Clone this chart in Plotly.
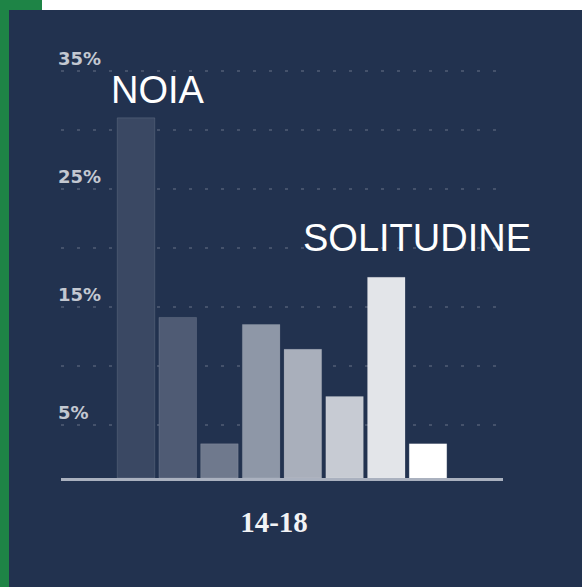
import plotly.graph_objects as go

# ---- data ----
group_label = ["14-18"]
bar_values = [30.5, 13.6, 2.9, 13.0, 10.9, 6.9, 17.0, 2.9]
bar_colors = ["#3a4863", "#4f5b74", "#6f798d", "#8e97a7", "#a9afbb", "#c7cbd3", "#e3e5e9", "#ffffff"]
ytick_vals = [5, 15, 25, 35]
ytick_text = ["5%", "15%", "25%", "35%"]
grid_levels = [4.5, 9.5, 14.5, 19.5, 24.5, 29.5, 34.5]

NAVY = "#22324f"
GREEN = "#1e8446"

W, H = 582, 587
L, R, T, B = 61, 79, 47, 109
pw, ph = W - L - R, H - T - B


def px_x(p):
    return (p - L) / pw


def px_y(p):
    return (H - B - p) / ph


fig = go.Figure()
for i, (v, c) in enumerate(zip(bar_values, bar_colors)):
    fig.add_trace(go.Bar(
        x=group_label, y=[v], marker=dict(color=c, line=dict(color="rgba(255,255,255,0.12)", width=1)),
        showlegend=False, hoverinfo="y",
    ))

# background decorations (green strip, white top band)
fig.add_shape(type="rect", xref="paper", yref="paper", x0=px_x(0), x1=px_x(9), y0=px_y(H), y1=px_y(0),
              fillcolor=GREEN, line_width=0, layer="below")
fig.add_shape(type="rect", xref="paper", yref="paper", x0=px_x(0), x1=px_x(42), y0=px_y(10), y1=px_y(0),
              fillcolor=GREEN, line_width=0, layer="below")
fig.add_shape(type="rect", xref="paper", yref="paper", x0=px_x(42), x1=px_x(W), y0=px_y(10), y1=px_y(0),
              fillcolor="white", line_width=0, layer="below")

# callout labels
fig.add_annotation(text="NOIA", xref="paper", yref="y", x=px_x(158), y=bar_values[0], yshift=5,
                   xanchor="center", yanchor="bottom", showarrow=False,
                   font=dict(family="Liberation Sans, Arial, sans-serif", size=38, color="white"))
fig.add_annotation(text="SOLITUDINE", xref="paper", yref="y", x=px_x(417), y=bar_values[6], yshift=16,
                   xanchor="center", yanchor="bottom", showarrow=False,
                   font=dict(family="Liberation Sans, Arial, sans-serif", size=38, color="white"))

fig.update_layout(
    width=W, height=H,
    margin=dict(l=L, r=R, t=T, b=B),
    paper_bgcolor=NAVY, plot_bgcolor=NAVY,
    barmode="group", bargap=0.245, bargroupgap=0.1,
    xaxis=dict(
        range=[-0.5, 0.5],
        showgrid=False, zeroline=False, showline=True, linecolor="#aab1bf", linewidth=3,
        ticks="", tickfont=dict(family="Liberation Serif, Times New Roman, serif", size=29,
                                color="#f2f3f5", weight="bold"),
        ticklabelstandoff=16, ticklabelshift=-8,
    ),
    yaxis=dict(
        range=[0, 36.5], showgrid=False, zeroline=False, showline=False,
        tickvals=ytick_vals, ticktext=ytick_text, ticks="",
        ticklabelposition="inside", ticklabelstandoff=-6, ticklabelshift=-6,
        tickfont=dict(family="DejaVu Sans, sans-serif", size=18, color="#c3c8d1", weight="bold"),
        minor=dict(tickvals=grid_levels, showgrid=True, gridcolor="rgba(255,255,255,0.16)",
                   griddash="3px,13px", gridwidth=2, ticks=""),
        layer="below traces",
    ),
    font=dict(family="Liberation Sans, sans-serif"),
)

fig.write_html("out.html", config={"displayModeBar": False},
               post_script="document.body.style.margin='0';document.body.style.overflow='hidden';")
